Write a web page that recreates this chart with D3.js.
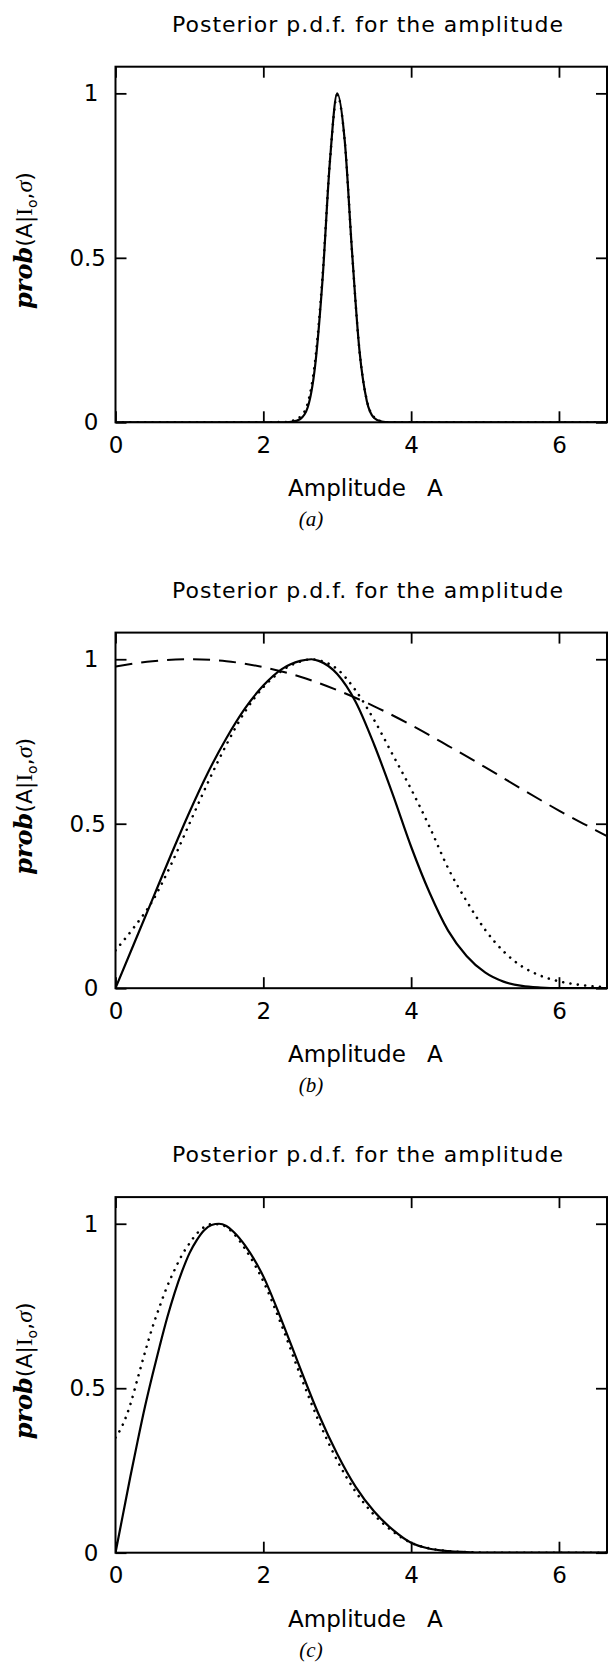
<!DOCTYPE html>
<html>
<head>
<meta charset="utf-8">
<script src="https://cdn.jsdelivr.net/npm/d3@7"></script>
<style>
  html, body { margin: 0; padding: 0; background: #fff; }
  svg { display: block; }
</style>
</head>
<body>
<svg id="fig" width="610" height="1663"></svg>
<script>
// Axis ticks and text
const xTicks = [0, 2, 4, 6];
const yTicks = [0, 0.5, 1];
const titleText = "Posterior p.d.f. for the amplitude";
const xLabelText = "Amplitude";
const xLabelSymbol = "A";
const panelTags = ["a", "b", "c"];

// Panel (a): narrow peak near A = 3
const ampA    = [0, 1, 2, 2.3, 2.4, 2.5, 2.6, 2.7, 2.8, 2.9, 3.0, 3.1, 3.2, 3.3, 3.4, 3.5, 3.6, 3.7, 4, 5, 6, 6.65];
const solidA  = [0, 0, 0, 0, 0.002, 0.01, 0.045, 0.17, 0.43, 0.79, 1.0, 0.86, 0.52, 0.22, 0.065, 0.013, 0.002, 0, 0, 0, 0, 0];
const dottedA = [0, 0, 0, 0.001, 0.005, 0.017, 0.057, 0.185, 0.44, 0.79, 0.995, 0.86, 0.52, 0.22, 0.067, 0.015, 0.003, 0, 0, 0, 0, 0];

// Panel (b): broad peak near A = 2.65, plus the dashed curve
const ampB    = [0, 0.25, 0.5, 0.75, 1, 1.25, 1.5, 1.75, 2, 2.25, 2.5, 2.65, 2.75, 3, 3.25, 3.5, 3.75, 4, 4.25, 4.5, 4.75, 5, 5.25, 5.5, 5.75, 6, 6.25, 6.5, 6.65];
const solidB  = [0, 0.135, 0.27, 0.405, 0.535, 0.655, 0.76, 0.85, 0.92, 0.97, 0.995, 1.0, 0.995, 0.955, 0.87, 0.74, 0.59, 0.43, 0.29, 0.175, 0.098, 0.048, 0.02, 0.007, 0.002, 0, 0, 0, 0];
const dottedB = [0.115, 0.185, 0.265, 0.375, 0.5, 0.625, 0.74, 0.84, 0.915, 0.965, 0.993, 1.0, 0.997, 0.97, 0.905, 0.815, 0.71, 0.605, 0.49, 0.365, 0.265, 0.178, 0.112, 0.066, 0.038, 0.021, 0.011, 0.005, 0.003];
const ampBDash  = [0, 0.5, 1, 1.5, 2, 2.5, 3, 3.5, 4, 4.5, 5, 5.5, 6, 6.5, 6.65];
const dashedB   = [0.978, 0.994, 1.0, 0.994, 0.976, 0.947, 0.906, 0.857, 0.80, 0.737, 0.672, 0.605, 0.54, 0.48, 0.462];

// Panel (c): skewed peak near A = 1.4
const ampC    = [0, 0.1, 0.2, 0.3, 0.4, 0.5, 0.6, 0.7, 0.8, 0.9, 1.0, 1.1, 1.2, 1.3, 1.4, 1.5, 1.6, 1.75, 2, 2.25, 2.5, 2.75, 3, 3.25, 3.5, 3.75, 4, 4.25, 4.5, 4.75, 5, 5.5, 6, 6.65];
const solidC  = [0, 0.115, 0.23, 0.34, 0.445, 0.54, 0.63, 0.715, 0.79, 0.855, 0.91, 0.95, 0.98, 0.996, 1.0, 0.993, 0.975, 0.935, 0.84, 0.705, 0.56, 0.42, 0.3, 0.2, 0.125, 0.07, 0.03, 0.012, 0.005, 0.002, 0, 0, 0, 0];
const dottedC = [0.35, 0.39, 0.45, 0.53, 0.61, 0.685, 0.75, 0.81, 0.86, 0.905, 0.94, 0.97, 0.99, 0.999, 0.998, 0.99, 0.97, 0.925, 0.825, 0.69, 0.54, 0.4, 0.28, 0.185, 0.115, 0.065, 0.03, 0.013, 0.005, 0.002, 0, 0, 0, 0];

const panels = [
  { tag: panelTags[0], series: [
      { amp: ampA, val: dottedA, kind: "dotted" },
      { amp: ampA, val: solidA,  kind: "solid" } ] },
  { tag: panelTags[1], series: [
      { amp: ampBDash, val: dashedB, kind: "dashed" },
      { amp: ampB, val: dottedB, kind: "dotted" },
      { amp: ampB, val: solidB,  kind: "solid" } ] },
  { tag: panelTags[2], series: [
      { amp: ampC, val: dottedC, kind: "dotted" },
      { amp: ampC, val: solidC,  kind: "solid" } ] }
];

// Layout
const left = 115.5, right = 607, plotH = 355.6;
const tops = [66.7, 632.6, 1197.1];
const plotW = right - left;

const x = d3.scaleLinear().domain([0, 6.65]).range([0, plotW]);
const y = d3.scaleLinear().domain([0, 1.081]).range([plotH, 0]);

const lineStyles = {
  solid:  { width: 2.2, dash: null, cap: "round" },
  dotted: { width: 2.6, dash: "0.01 7.4", cap: "round" },
  dashed: { width: 2.0, dash: "17 9", cap: "butt" }
};

const svg = d3.select("#fig");
const sans = "'DejaVu Sans', Verdana, sans-serif";
const serif = "'Liberation Serif', 'Times New Roman', serif";

const line = d3.line()
  .x(d => x(d[0]))
  .y(d => y(d[1]))
  .curve(d3.curveMonotoneX);

panels.forEach((p, i) => {
  const g = svg.append("g").attr("transform", `translate(${left},${tops[i]})`);

  // Title
  g.append("text")
    .attr("x", 172 - left)
    .attr("y", -35)
    .attr("font-family", sans)
    .attr("font-size", 22)
    .attr("textLength", 391)
    .attr("lengthAdjust", "spacing")
    .text(titleText);

  // Curves
  const clipId = "clip" + i;
  g.append("clipPath").attr("id", clipId)
    .append("rect").attr("x", 0).attr("y", -2).attr("width", plotW).attr("height", plotH + 2);

  p.series.forEach(s => {
    const st = lineStyles[s.kind];
    const pts = s.amp.map((a, k) => [a, s.val[k]]);
    g.append("path")
      .attr("clip-path", `url(#${clipId})`)
      .attr("d", line(pts))
      .attr("fill", "none")
      .attr("stroke", "#000")
      .attr("stroke-width", st.width)
      .attr("stroke-linecap", st.cap)
      .attr("stroke-linejoin", "round")
      .attr("stroke-dasharray", st.dash);
  });

  // Axes: inward ticks on all four sides
  const bottom = g.append("g").attr("transform", `translate(0,${plotH})`)
    .call(d3.axisBottom(x).tickValues(xTicks).tickSize(-11).tickSizeOuter(0).tickPadding(14).tickFormat(d3.format("d")));
  const leftAx = g.append("g")
    .call(d3.axisLeft(y).tickValues(yTicks).tickSize(-11).tickSizeOuter(0).tickPadding(17).tickFormat(d => d3.format("~g")(d)));
  const topAx = g.append("g")
    .call(d3.axisTop(x).tickValues(xTicks).tickSize(-11).tickSizeOuter(0).tickFormat(""));
  const rightAx = g.append("g").attr("transform", `translate(${plotW},0)`)
    .call(d3.axisRight(y).tickValues(yTicks).tickSize(-11).tickSizeOuter(0).tickFormat(""));

  [bottom, leftAx, topAx, rightAx].forEach(ax => {
    ax.select(".domain").remove();
    ax.selectAll(".tick line").attr("stroke", "#000").attr("stroke-width", 1.8);
    ax.selectAll("text").attr("font-family", sans).attr("font-size", 23).attr("fill", "#000");
  });
  // decimal labels sit a little further right
  leftAx.selectAll(".tick text").each(function (d) {
    if (d % 1 !== 0) d3.select(this).attr("x", -9.5);
  });

  // Frame
  g.append("rect")
    .attr("x", 0).attr("y", 0).attr("width", plotW).attr("height", plotH)
    .attr("fill", "none").attr("stroke", "#000").attr("stroke-width", 2);

  // X label
  const xl = g.append("text")
    .attr("y", plotH + 74)
    .attr("font-family", sans)
    .attr("font-size", 23);
  xl.append("tspan").attr("x", 288 - left).text(xLabelText);
  xl.append("tspan").attr("x", 427 - left).text(xLabelSymbol);

  // Y label: prob(A|I_o,σ)
  const yl = g.append("text")
    .attr("transform", `translate(${32 - left},${plotH / 2 - 4}) rotate(-90)`)
    .attr("text-anchor", "middle")
    .attr("font-family", sans)
    .attr("font-size", 22);
  yl.append("tspan").attr("font-family", "'DejaVu Serif', serif").attr("font-weight", "bold")
    .attr("font-style", "italic").attr("font-size", 24).text("prob");
  yl.append("tspan").text("(A|");
  yl.append("tspan").attr("font-family", serif).attr("font-size", 23).text("I");
  yl.append("tspan").attr("font-size", 14).attr("dy", 5).text("o");
  yl.append("tspan").attr("dy", -5).text(",");
  yl.append("tspan").attr("font-family", serif).attr("font-style", "italic").attr("font-size", 24).text("σ");
  yl.append("tspan").text(")");

  // Panel tag
  g.append("text")
    .attr("x", 311 - left)
    .attr("y", plotH + 104)
    .attr("text-anchor", "middle")
    .attr("font-family", serif)
    .attr("font-style", "italic")
    .attr("font-size", 21)
    .text(`(${p.tag})`);
});
</script>
</body>
</html>
